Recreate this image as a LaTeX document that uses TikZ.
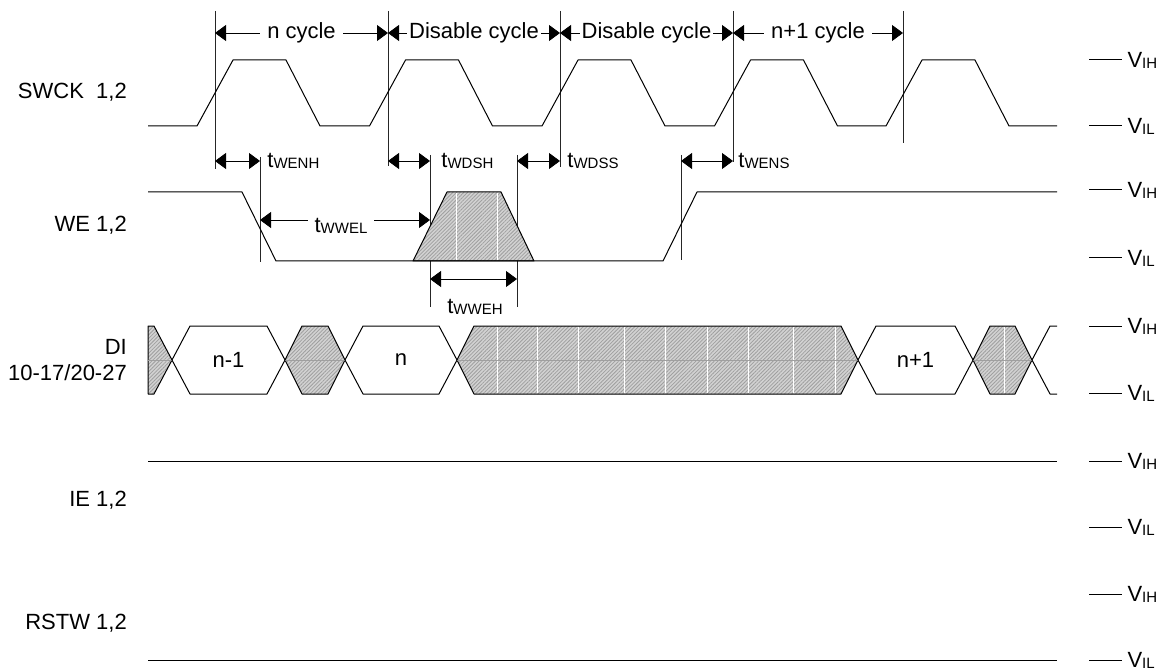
\documentclass[tikz,border=0pt]{standalone}
\usepackage{fontspec}
\setmainfont{Liberation Sans}
\usetikzlibrary{arrows.meta, patterns.meta, positioning}
\newcommand{\lsub}[1]{\raisebox{-1pt}{\fontsize{15}{15}\selectfont #1}}

\begin{document}
\begin{tikzpicture}[
    x=1pt, y=-1pt,
    font=\fontsize{22}{26}\selectfont,
    wave/.style={line width=1pt, line join=round},
    guide/.style={line width=0.8pt, black!85},
    span/.style={{Triangle[length=11pt,width=16pt]}-{Triangle[length=11pt,width=16pt]}, line width=0.8pt},
    hatched/.style={preaction={fill=gray!35}, pattern={Lines[angle=45,distance=2.6pt,line width=0.8pt]}, pattern color=gray!75},
    artefact/.style={white, line width=0.8pt},
    midline/.style={gray!75, line width=0.6pt},
    siglabel/.style={anchor=east, align=right, inner sep=0pt},
    level/.style={anchor=west, inner sep=0pt, xshift=5pt},
    timing/.style={anchor=west, inner sep=0pt},
    gap/.style={fill=white, inner xsep=7pt, inner ysep=1pt}
]
    \useasboundingbox (0,0) rectangle (1168,671);

    % Signal names
    \node[siglabel] (swck) at (127,92) {SWCK~~1,2};
    \node[siglabel] (we) at (127,225) {WE 1,2};
    \node[siglabel] (di) at (127,360) {DI\\10-17/20-27};
    \node[siglabel] (ie) at (127,500) {IE 1,2};
    \node[siglabel] (rstw) at (127,623) {RSTW 1,2};

    % Levels
    \foreach \y/\t [count=\i] in {60/IH,126/IL,190/IH,258/IL,326/IH,393/IL,461/IH,527/IL,594/IH,660/IL}
        \draw[wave] (1089,\y) -- (1122,\y) node[level] (lv\i) {V\lsub{\t}};

    % Guides
    \coordinate (g1t) at (215,11);  \coordinate (g1b) at (215,169);
    \coordinate (g2t) at (388,11);  \coordinate (g2b) at (388,166);
    \coordinate (g3t) at (560,11);  \coordinate (g3b) at (560,167);
    \coordinate (g4t) at (733,11);  \coordinate (g4b) at (733,162);
    \coordinate (g5t) at (903,11);  \coordinate (g5b) at (903,143);
    \coordinate (h1t) at (260,157); \coordinate (h1b) at (260,262);
    \coordinate (h2t) at (430,155); \coordinate (h2b) at (430,307);
    \coordinate (h3t) at (517,155); \coordinate (h3b) at (517,307);
    \coordinate (h4t) at (681,155); \coordinate (h4b) at (681,260);
    \foreach \g in {g1,g2,g3,g4,g5,h1,h2,h3,h4}
        \draw[guide] (\g t) -- (\g b);

    % Cycles
    \draw[span] (215,33) -- node[gap] (ncyc) {n cycle} (388,33);
    \draw[span] (388,33) -- node[gap, inner xsep=2pt] (dis1) {Disable cycle} (560,33);
    \draw[span] (560,33) -- node[gap, inner xsep=2pt] (dis2) {Disable cycle} (733,33);
    \draw[span] (733,33) -- node[gap] (n1cyc) {n+1 cycle} (903,33);

    % SWCK
    \draw[wave] (148,126)
        foreach \r in {197,369.5,542,714.5,886} { -- (\r,126) -- (\r+36,60) -- (\r+89,60) -- (\r+123,126) }
        -- (1057,126);

    % Timing
    \draw[span] (215,161) -- (260,161) node[timing, xshift=7pt] (twenh) {t\lsub{WENH}};
    \draw[span] (388,161) -- (430,161) node[timing, xshift=11pt] (twdsh) {t\lsub{WDSH}};
    \draw[span] (517,161) -- (560,161) node[timing, xshift=7pt] (twdss) {t\lsub{WDSS}};
    \draw[span] (681,161) -- (733,161) node[timing, xshift=5pt] (twens) {t\lsub{WENS}};
    \draw[span] (260,220) -- node[gap, yshift=-6pt, xshift=-4pt] (twwel) {t\lsub{WWEL}} (430,220);
    \draw[span] (430,279) -- (517,279);
    \node (twweh) at (475,307) {t\lsub{WWEH}};

    % WE
    \draw[wave, hatched] (413,261) -- (447,192) -- (501,192) -- (534,261) -- cycle;
    \foreach \x in {456,497} \draw[artefact] (\x,193) -- (\x,260);
    \draw[wave] (148,192) -- (242,192) -- (276,261) -- (663,261) -- (697,192) -- (1057,192);

    % DI
    \draw[wave, hatched] (148,326) -- (154,326) -- (172,360) -- (154,394) -- (148,394) -- cycle;
    \foreach \a/\b in {285/345, 457/858, 973/1032}
        \draw[wave, hatched] (\a,360) -- (\a+17,326) -- (\b-17,326) -- (\b,360) -- (\b-17,394) -- (\a+17,394) -- cycle;
    \foreach \x in {497,537,578,624,665,707,748,793,835,1004}
        \draw[artefact] (\x,327) -- (\x,393);
    \foreach \a/\b in {148/172, 285/345, 457/858, 973/1032}
        \draw[midline] (\a,360) -- (\b,360);
    \foreach \a/\b/\t [count=\i] in {172/285/n-1, 345/457/n, 858/973/n+1}
        \draw[wave] (\a,360) -- (\a+18,326) -- (\b-18,326) -- (\b,360) -- (\b-18,394) -- (\a+18,394) -- cycle
            node[inner sep=0pt] (val\i) at ({(\a+\b)/2},360) {\t};
    \draw[wave] (1057,326) -- (1050,326) -- (1032,360) -- (1050,394) -- (1057,394);

    % IE, RSTW
    \draw[wave] (148,461) -- (1057,461);
    \draw[wave] (148,660) -- (1057,660);
\end{tikzpicture}
\end{document}
